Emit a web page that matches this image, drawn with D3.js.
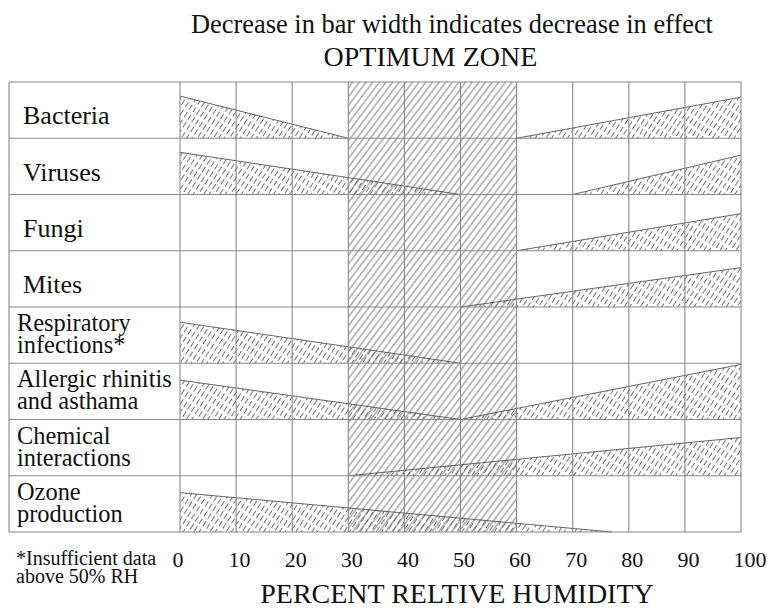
<!DOCTYPE html>
<html>
<head>
<meta charset="utf-8">
<script src="https://cdn.jsdelivr.net/npm/d3@7"></script>
<style>
  html, body { margin: 0; padding: 0; background: #fff; }
  svg { display: block; }
  svg text { font-family: "Liberation Serif", "DejaVu Serif", "Noto Serif", Times, serif !important; fill: #111; }
</style>
</head>
<body>
<svg id="chart" width="769" height="609"></svg>
<script>
// ---------------- DATA ----------------
const rowKeys = ["Bacteria", "Viruses", "Fungi", "Mites", "Respiratory", "Allergic", "Chemical", "Ozone"];
const rowLabels = [
  ["Bacteria"],
  ["Viruses"],
  ["Fungi"],
  ["Mites"],
  ["Respiratory", "infections*"],
  ["Allergic rhinitis", "and asthama"],
  ["Chemical", "interactions"],
  ["Ozone", "production"]
];
// each segment: [[rhStart, effectStart], [rhEnd, effectEnd]]  (effect = % of row height)
const bacteriaBars = [[[0, 75], [30, 0]], [[60, 0], [100, 73]]];
const virusesBars = [[[0, 75], [50, 0]], [[70, 0], [100, 70]]];
const fungiBars = [[[60, 0], [100, 66]]];
const mitesBars = [[[50, 0], [100, 70]]];
const respiratoryBars = [[[0, 73], [50, 0]]];
const allergicBars = [[[0, 70], [50, 0]], [[50, 0], [100, 98]]];
const chemicalBars = [[[30, 0], [100, 68]]];
const ozoneBars = [[[0, 70], [77, 0]]];
const allBars = [bacteriaBars, virusesBars, fungiBars, mitesBars, respiratoryBars, allergicBars, chemicalBars, ozoneBars];

const optimumZone = [30, 60];
const xTicks = [0, 10, 20, 30, 40, 50, 60, 70, 80, 90, 100];

const titleText = "Decrease in bar width indicates decrease in effect";
const zoneText = "OPTIMUM ZONE";
const xAxisTitle = "PERCENT RELTIVE HUMIDITY";
const footnote = ["*Insufficient data", "above 50% RH"];

// ---------------- LAYOUT ----------------
const FONT = "'Liberation Serif', 'DejaVu Serif', serif";
const svg = d3.select("#chart").attr("font-family", FONT);
const boxLeft = 9, plotLeft = 180, plotRight = 741, plotTop = 82, plotBottom = 532;

const x = d3.scaleLinear().domain([0, 100]).range([plotLeft, plotRight]);
const y = d3.scaleBand().domain(rowKeys).range([plotTop, plotBottom]).padding(0);
const h = d3.scaleLinear().domain([0, 100]).range([0, y.bandwidth()]);

svg.append("rect").attr("width", 769).attr("height", 609).attr("fill", "#fff");

const defs = svg.append("defs");
// optimum zone hatch: continuous diagonal lines
const pz = defs.append("pattern").attr("id", "zoneHatch")
  .attr("patternUnits", "userSpaceOnUse").attr("width", 5.3).attr("height", 10)
  .attr("patternTransform", "rotate(37)");
pz.append("line").attr("x1", 2.6).attr("x2", 2.6).attr("y1", -1).attr("y2", 11)
  .attr("stroke", "#808080").attr("stroke-width", 1);

// bar hatch: short slanted dashes
const pb = defs.append("pattern").attr("id", "barHatch")
  .attr("patternUnits", "userSpaceOnUse").attr("width", 4.5).attr("height", 9)
  .attr("patternTransform", "rotate(33)");
pb.append("line").attr("x1", 2.2).attr("x2", 2.2).attr("y1", 1).attr("y2", 7)
  .attr("stroke", "#6a6a6a").attr("stroke-width", 0.95);

// optimum zone
svg.append("rect")
  .attr("x", x(optimumZone[0])).attr("y", plotTop)
  .attr("width", x(optimumZone[1]) - x(optimumZone[0]))
  .attr("height", plotBottom - plotTop)
  .attr("fill", "url(#zoneHatch)");

// bars
const barG = svg.append("g");
rowKeys.forEach((key, i) => {
  const base = y(key) + y.bandwidth();
  allBars[i].forEach(seg => {
    const [[x0, e0], [x1, e1]] = seg;
    const pts = [[x(x0), base], [x(x0), base - h(e0)], [x(x1), base - h(e1)], [x(x1), base]];
    barG.append("path")
      .attr("d", "M" + pts.map(p => p.join(",")).join("L") + "Z")
      .attr("fill", "url(#barHatch)");
    barG.append("line")
      .attr("x1", x(x0)).attr("y1", base - h(e0))
      .attr("x2", x(x1)).attr("y2", base - h(e1))
      .attr("stroke", "#555").attr("stroke-width", 0.9);
  });
});

// grid
const gridG = svg.append("g").attr("stroke", "#8a8a8a").attr("stroke-width", 1.1);
xTicks.forEach(t => {
  gridG.append("line").attr("x1", x(t)).attr("x2", x(t)).attr("y1", plotTop).attr("y2", plotBottom);
});
const bounds = rowKeys.map(k => y(k)).concat([plotBottom]);
bounds.forEach(b => {
  gridG.append("line").attr("x1", boxLeft).attr("x2", plotRight).attr("y1", b).attr("y2", b);
});
gridG.append("line").attr("x1", boxLeft).attr("x2", boxLeft).attr("y1", plotTop).attr("y2", plotBottom);

// row labels
rowKeys.forEach((key, i) => {
  const lines = rowLabels[i];
  const t0 = y(key);
  if (lines.length === 1) {
    svg.append("text").attr("x", 23).attr("y", t0 + y.bandwidth() - 14)
      .attr("font-size", 26).text(lines[0]);
  } else {
    lines.forEach((ln, j) => {
      svg.append("text").attr("x", 17).attr("y", t0 + 24 + j * 22)
        .attr("font-size", 24.4).text(ln);
    });
  }
});

// x axis labels
const axis = d3.axisBottom(x).tickValues(xTicks).tickSize(0).tickFormat(d3.format("d"));
const axG = svg.append("g").attr("transform", `translate(0,${plotBottom})`).call(axis)
  .attr("font-family", FONT);
axG.select(".domain").remove();
axG.selectAll("text")
  .attr("font-size", 22).attr("fill", "#111")
  .attr("text-anchor", "start").attr("dx", -8).attr("dy", 0).attr("y", 35);

// titles
svg.append("text").attr("x", 452).attr("y", 33).attr("text-anchor", "middle")
  .attr("font-size", 26.4).text(titleText);
svg.append("text").attr("x", (x(optimumZone[0]) + x(optimumZone[1])) / 2 - 2).attr("y", 66)
  .attr("text-anchor", "middle").attr("font-size", 28).text(zoneText);
svg.append("text").attr("x", 457).attr("y", 603).attr("text-anchor", "middle")
  .attr("font-size", 28).text(xAxisTitle);

footnote.forEach((ln, j) => {
  svg.append("text").attr("x", 16).attr("y", 565 + j * 18).attr("font-size", 20).text(ln);
});
</script>
</body>
</html>
